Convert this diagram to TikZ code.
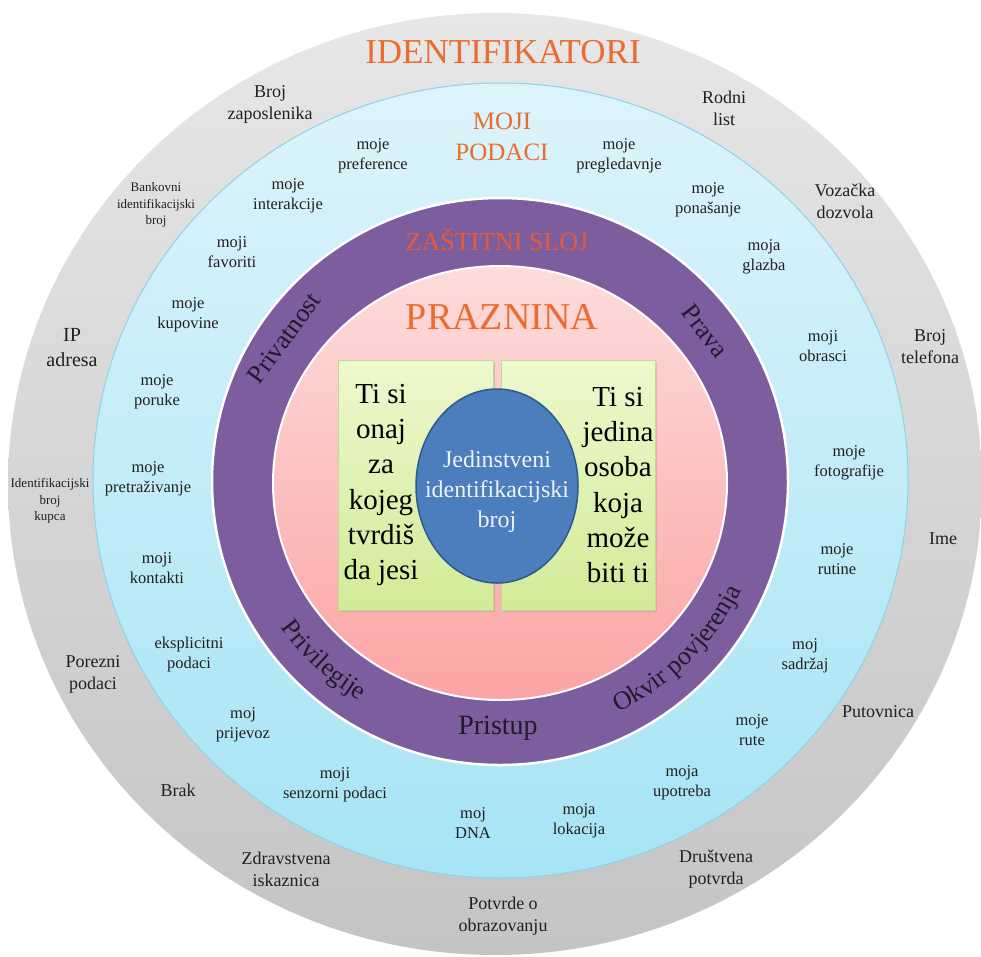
\documentclass[tikz,border=0pt]{standalone}
\usepackage{fontspec}
\setmainfont{Liberation Serif}
\usetikzlibrary{shapes.geometric}
\usetikzlibrary{decorations.text}
\usetikzlibrary{shadows}

\definecolor{grayTop}{HTML}{E7E7E7}
\definecolor{grayBottom}{HTML}{C4C4C4}
\definecolor{skyTop}{HTML}{DDF4FB}
\definecolor{skyBottom}{HTML}{A6E4F5}
\definecolor{skyEdge}{HTML}{8ED2E6}
\definecolor{ringPurple}{HTML}{7C5D9E}
\definecolor{pinkTop}{HTML}{FDDCDC}
\definecolor{pinkBottom}{HTML}{FCA4A4}
\definecolor{boxTop}{HTML}{EEF8CE}
\definecolor{boxBottom}{HTML}{D2EB98}
\definecolor{boxEdge}{HTML}{C4D98E}
\definecolor{coreBlue}{HTML}{4C7DBD}
\definecolor{coreEdge}{HTML}{2C5A90}
\definecolor{coreText}{HTML}{EEF2FA}
\definecolor{titleOrange}{HTML}{EC6B2E}
\definecolor{shieldOrange}{HTML}{E85A35}
\definecolor{inkDark}{HTML}{231F20}
\definecolor{ringInk}{HTML}{221A2C}

\begin{document}
\begin{tikzpicture}[x = 1pt, y = 1pt]
	\tikzstyle{layerStyle}=[shape = ellipse, inner sep = 0pt, draw = none]
	\tikzstyle{idStyle}=[align = center, text = inkDark, font = \fontsize{18}{22}\selectfont]
	\tikzstyle{idSmallStyle}=[align = center, text = inkDark, font = \fontsize{13}{16.5}\selectfont]
	\tikzstyle{dataStyle}=[align = center, text = inkDark, font = \fontsize{16.5}{20}\selectfont]
	\tikzstyle{titleStyle}=[align = center, text = titleOrange]
	\tikzstyle{boxStyle}=[shape = rectangle, inner sep = 0pt, minimum height = 250pt, top color = boxTop, bottom color = boxBottom, draw = boxEdge, line width = 0.6pt, drop shadow = {shadow xshift = 1.5pt, shadow yshift = -1.5pt, opacity = 0.25}]
	\tikzstyle{claimStyle}=[align = center, text = black, font = \fontsize{29}{35.3}\selectfont]
	\tikzstyle{ringTextStyle}=[text = ringInk, inner sep = 0pt, font = \fontsize{26}{30}\selectfont]
	\tikzstyle{ringPathStyle}=[decorate, decoration = {text along path, text align = center, text color = ringInk}]
	\useasboundingbox (0,0) rectangle (981,-956);
	\node[layerStyle, minimum width = 974pt, minimum height = 942pt, top color = grayTop, bottom color = grayBottom] (identifiers) at (495,-484) {};
	\node[layerStyle, minimum width = 815pt, minimum height = 795pt, top color = skyTop, bottom color = skyBottom, draw = skyEdge, line width = 1pt] (mydata) at (500.5,-480.5) {};
	\node[layerStyle, minimum width = 576pt, minimum height = 567pt, fill = ringPurple, draw = white, line width = 2.5pt] (shield) at (500,-481.5) {};
	\node[layerStyle, minimum width = 454pt, minimum height = 434pt, top color = pinkTop, bottom color = pinkBottom, draw = white, line width = 2pt] (void) at (500,-483) {};
	\node[boxStyle, minimum width = 155pt] (claimBox) at (415.5,-485) {};
	\node[boxStyle, minimum width = 154pt] (onlyBox) at (578,-485) {};
	\node[claimStyle] (claim) at (381,-485) {Ti si\\onaj\\za\\kojeg\\tvrdiš\\da jesi};
	\node[claimStyle] (only) at (618,-485) {Ti si\\jedina\\osoba\\koja\\može\\biti ti};
	\node[layerStyle, minimum width = 162pt, minimum height = 194pt, fill = coreBlue, draw = coreEdge, line width = 1.5pt] (core) at (497,-486) {};
	\node[align = center, text = coreText, font = \fontsize{24}{30}\selectfont] (coreText) at (497,-492) {Jedinstveni\\identifikacijski\\broj};
	\node[titleStyle, font = \fontsize{35}{40}\selectfont] (identTitle) at (503,-52) {IDENTIFIKATORI};
	\node[titleStyle, font = \fontsize{25}{31}\selectfont] (dataTitle) at (502,-137) {MOJI\\PODACI};
	\node[titleStyle, text = shieldOrange, font = \fontsize{26}{30}\selectfont] (shieldTitle) at (497,-239) {ZAŠTITNI SLOJ};
	\node[titleStyle, font = \fontsize{38}{44}\selectfont] (voidTitle) at (502,-317) {PRAZNINA};
	\node[ringTextStyle, font = \fontsize{28}{32}\selectfont] (access) at (498,-728) {Pristup};
	\node[ringTextStyle, rotate = 54] (privacy) at (284,-338) {Privatnost};
	\node[ringTextStyle, rotate = -52] (rights) at (705,-331) {Prava};
	\path[ringPathStyle, decoration = {text = {|\fontsize{26}{30}\selectfont|Privilegije}}] ([shift = {(186:266pt and 258pt)}]shield.center) arc[start angle = 186, end angle = 266, x radius = 266pt, y radius = 258pt];
	\path[ringPathStyle, decoration = {text = {|\fontsize{26}{30}\selectfont|Okvir povjerenja}}] ([shift = {(276:266pt and 258pt)}]shield.center) arc[start angle = 276, end angle = 356, x radius = 266pt, y radius = 258pt];
	\node[idStyle] (idEmployee) at (270,-104) {Broj\\zaposlenika};
	\node[idStyle] (idBirth) at (724,-108) {Rodni\\list};
	\node[idSmallStyle] (idBank) at (156,-205) {Bankovni\\identifikacijski\\broj};
	\node[idStyle] (idLicence) at (845,-201) {Vozačka\\dozvola};
	\node[idStyle, font = \fontsize{20}{25}\selectfont] (idIP) at (72,-348) {IP\\adresa};
	\node[idStyle] (idPhone) at (930,-347) {Broj\\telefona};
	\node[idSmallStyle] (idCustomer) at (50,-501) {Identifikacijski\\broj\\kupca};
	\node[idStyle] (idName) at (943,-539) {Ime};
	\node[idStyle] (idTax) at (93,-674) {Porezni\\podaci};
	\node[idStyle] (idPassport) at (878,-712) {Putovnica};
	\node[idStyle] (idMarriage) at (178,-790) {Brak};
	\node[idStyle] (idHealth) at (286,-869) {Zdravstvena\\iskaznica};
	\node[idStyle] (idSocial) at (716,-869) {Društvena\\potvrda};
	\node[idStyle] (idEducation) at (503,-916) {Potvrde o\\obrazovanju};
	\node[dataStyle] (dPreference) at (373,-156) {moje\\preference};
	\node[dataStyle] (dBrowsing) at (619,-156) {moje\\pregledavnje};
	\node[dataStyle] (dInteraction) at (288,-196) {moje\\interakcije};
	\node[dataStyle] (dBehaviour) at (708,-200) {moje\\ponašanje};
	\node[dataStyle] (dFavourite) at (232,-252) {moji\\favoriti};
	\node[dataStyle] (dMusic) at (764,-257) {moja\\glazba};
	\node[dataStyle] (dPurchase) at (188,-315) {moje\\kupovine};
	\node[dataStyle] (dForm) at (823,-346) {moji\\obrasci};
	\node[dataStyle] (dMessage) at (157,-392) {moje\\poruke};
	\node[dataStyle] (dPhoto) at (849,-463) {moje\\fotografije};
	\node[dataStyle] (dSearch) at (148,-479) {moje\\pretraživanje};
	\node[dataStyle] (dRoutine) at (837,-559) {moje\\rutine};
	\node[dataStyle] (dContact) at (157,-568) {moji\\kontakti};
	\node[dataStyle] (dExplicit) at (189,-655) {eksplicitni\\podaci};
	\node[dataStyle] (dContent) at (805,-656) {moj\\sadržaj};
	\node[dataStyle] (dTransport) at (243,-725) {moj\\prijevoz};
	\node[dataStyle] (dRoute) at (752,-730) {moje\\rute};
	\node[dataStyle] (dSensor) at (335,-785) {moji\\senzorni podaci};
	\node[dataStyle] (dUsage) at (682,-783) {moja\\upotreba};
	\node[dataStyle] (dDNA) at (473,-823) {moj\\DNA};
	\node[dataStyle] (dLocation) at (579,-821) {moja\\lokacija};
\end{tikzpicture}
\end{document}
